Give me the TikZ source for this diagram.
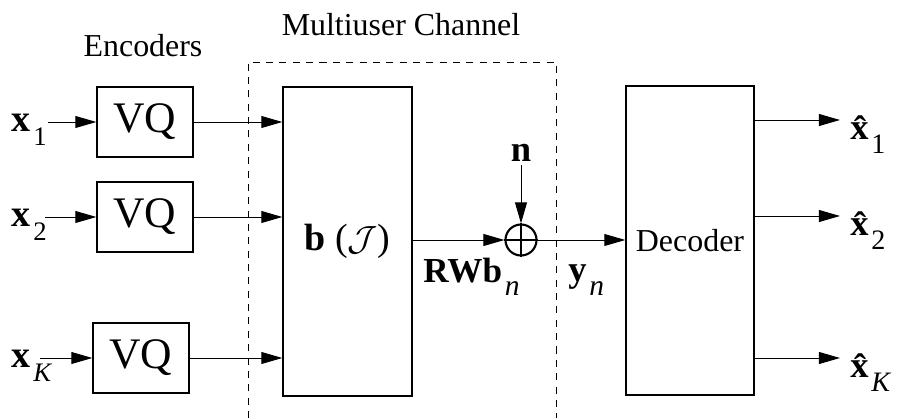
\documentclass[tikz,border=0pt]{standalone}
\usepackage{fontspec}
\setmainfont{Liberation Serif}
\usetikzlibrary{arrows.meta,positioning,calc}

\newcommand{\fs}[1]{\fontsize{#1}{#1}\selectfont}
% bold base with a lowered subscript
\newcommand{\bsub}[3]{{\bfseries #1}\kern0.08em\raisebox{-0.36em}{\fs{#3}#2}}

\begin{document}
\begin{tikzpicture}[x=0.025cm,y=-0.025cm,
  box/.style={draw,line width=0.9pt,inner sep=0pt},
  vq/.style={box,minimum width=2.4cm,minimum height=1.75cm,font=\fs{31}},
  tall/.style={box,minimum width=3.2cm,minimum height=7.725cm},
  sig/.style={-{Triangle[length=15pt,width=8.5pt]},line width=0.7pt},
  frame/.style={line width=0.7pt,dash pattern=on 5pt off 4.5pt},
  lbl/.style={inner sep=0pt,anchor=base west}]
  \useasboundingbox (0,0) rectangle (897,418);

  % titles
  \node[font=\fs{22.7}] (mutitle) at (401,25) {Multiuser Channel};
  \node[font=\fs{22.7}] (enctitle) at (143,46) {Encoders};

  % encoders
  \node[vq] (vq1) at (145,122) {VQ};
  \node[vq] (vq2) at (145,217) {VQ};
  \node[vq] (vq3) at (141,358) {VQ};

  % channel and decoder
  \node[tall,minimum width=3.225cm] (chan) at (347.5,241.5) {\fs{27}\textbf{b} ($\mathcal{J}$)};
  \node[tall] (dec) at (690,240.5) {\fs{22.7}Decoder};
  \node[draw,circle,line width=1.5pt,minimum size=0.775cm,inner sep=0pt] (sum) at (521,240) {};
  \draw[line width=1.2pt] (sum.north) -- (sum.south) (sum.west) -- (sum.east);
  \draw[frame] (248,418) |- (556,62) -- (556,418);

  % inputs
  \node[lbl,font=\fs{27}] (x1) at (11,132) {\bsub{x}{1}{19}};
  \node[lbl,font=\fs{27}] (x2) at (11,227) {\bsub{x}{2}{19}};
  \node[lbl,font=\fs{27}] (xK) at (11,368) {\bsub{x}{\textit{K}}{19}};
  \coordinate (in1) at (48,122);
  \coordinate (in2) at (45,217);
  \coordinate (in3) at (40,358);
  \draw[sig] (in1) -- (vq1);
  \draw[sig] (in2) -- (vq2);
  \draw[sig] (in3) -- (vq3);
  \foreach \i in {1,2,3}
    \draw[sig] (vq\i) -- (vq\i -| chan.west);

  % noise and sum
  \node[font=\fs{26}\bfseries,inner sep=0pt] (noise) at (521,153) {n};
  \draw[sig] (noise.south) ++(0,3) -- (sum.north);
  \draw[sig] (chan.east |- sum) -- (sum.west);
  \draw[sig] (sum.east) -- (dec.west |- sum);
  \node[lbl,font=\fs{25}] (rwb) at (423,283) {\bsub{RWb}{\textit{n}}{21}};
  \node[lbl,font=\fs{26}] (yn) at (568,282) {\bsub{y}{\textit{n}}{21}};

  % outputs
  \foreach \i/\y/\s in {1/120/1,2/216/2,3/358/\textit{K}}{
    \coordinate (out\i) at (840,\y);
    \draw[sig] (dec.east |- out\i) -- (out\i);
    \node[lbl,font=\fs{26}] (xh\i) at (850,\y+20) {\bsub{\^{x}}{\s}{20}};
  }
\end{tikzpicture}
\end{document}
